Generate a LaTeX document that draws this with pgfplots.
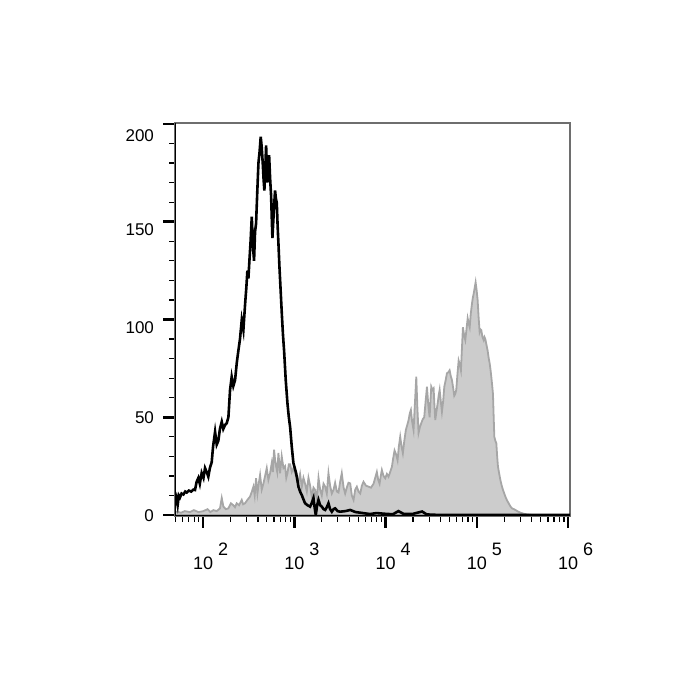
\documentclass[border=0pt]{standalone}
\usepackage{pgfplots}
\pgfplotsset{compat=1.18}
\usepackage{fontspec}
\setmainfont{Liberation Sans}
\definecolor{histfill}{HTML}{CCCCCC}
\definecolor{histline}{HTML}{A6A6A6}
\definecolor{framegray}{HTML}{6E6E6E}
% "10" centred on the tick, exponent at full size, raised, hanging to the right
\newcommand{\dec}[1]{10\rlap{\hspace{2.5pt}\raisebox{7pt}{#1}}}
% y labels sit a little below their ticks
\newcommand{\ylab}[2]{\raisebox{\dimexpr -3pt-#1\relax}[0pt][0pt]{#2}}

\pgfplotstableread{
x y
1.693 1.5
1.711 1.7
1.760 1.2
1.800 2
1.857 1.5
1.900 2.5
1.950 1.5
2.004 2
2.050 3
2.080 1.5
2.113 2.5
2.150 2
2.186 3.4
2.205 8.7
2.223 4.3
2.250 3
2.278 3.4
2.305 6
2.332 5
2.350 4
2.369 6
2.395 5
2.424 7.7
2.440 5.5
2.460 6
2.490 8
2.515 9.4
2.535 12
2.552 14.5
2.566 10
2.581 18.8
2.596 11
2.610 16
2.625 20.5
2.643 13
2.661 16
2.680 20
2.698 24
2.716 18
2.735 21.5
2.753 26.6
2.765 22
2.778 33.4
2.790 28
2.800 25
2.813 22
2.826 31.7
2.844 21.4
2.862 30
2.881 24
2.899 25
2.912 19
2.925 21.4
2.940 26
2.954 26
2.972 22
2.990 24
3.018 20
3.045 17
3.063 21
3.082 14.5
3.100 19
3.118 16
3.137 12
3.155 19
3.173 15
3.191 9.4
3.210 14
3.228 12.8
3.247 8
3.265 19
3.283 13
3.301 10
3.320 16
3.338 14.5
3.356 11
3.374 21.4
3.392 15
3.411 11
3.430 13
3.447 16.5
3.466 12
3.484 11.5
3.502 17
3.520 21.4
3.540 14
3.557 11
3.575 14
3.593 16.5
3.612 16.2
3.630 10
3.649 7.7
3.667 13
3.685 14.5
3.703 12
3.722 11
3.740 15
3.758 17
3.785 15
3.813 14.5
3.840 14
3.868 16
3.886 19
3.904 22
3.919 18
3.934 16
3.947 20
3.959 23
3.977 20
3.996 18.8
4.014 21
4.032 19.6
4.050 22
4.069 24.7
4.083 29
4.098 33
4.115 31
4.131 28
4.145 35
4.160 40
4.175 35
4.189 31.6
4.205 38
4.222 43.5
4.237 46
4.252 48.6
4.265 52
4.277 53.7
4.290 48
4.306 43.5
4.320 56
4.336 70.7
4.348 55
4.361 42
4.376 45
4.391 47
4.407 49
4.423 50
4.438 58
4.453 65.6
4.468 56
4.482 50
4.491 58
4.500 65.6
4.513 64
4.526 64.8
4.535 56
4.544 48.6
4.557 53
4.570 57
4.581 61
4.592 64
4.605 58
4.617 52.8
4.630 58
4.643 65.6
4.658 69
4.672 72.5
4.687 73
4.701 74
4.714 71
4.727 69
4.740 65
4.752 61
4.763 62
4.774 64
4.787 72
4.800 79
4.812 77
4.825 74
4.836 85
4.847 96
4.860 92
4.873 89.5
4.886 95
4.899 100.6
4.910 98
4.921 96
4.933 103
4.946 108
4.955 111
4.964 113
4.975 116
4.986 119
4.997 115
5.008 110
5.019 101
5.030 93.7
5.039 95
5.048 94.6
5.061 91
5.074 89.5
5.083 91
5.092 90
5.105 87
5.118 84
5.130 80
5.140 77.6
5.150 74
5.158 70.7
5.168 66
5.176 62
5.184 50
5.191 40
5.202 38
5.213 36.7
5.222 30
5.231 24.7
5.245 21
5.257 18
5.272 15
5.286 12.8
5.300 11
5.312 9.4
5.330 7.5
5.348 6
5.366 4.5
5.385 3.4
5.405 3
5.421 2.6
5.450 1.8
5.476 1.2
5.510 0.7
5.549 0.3
5.600 0
6.030 0
}\stained

\pgfplotstableread{
x y
1.700 5
1.711 8
1.722 5
1.735 10
1.748 9
1.765 11
1.785 10.5
1.805 12
1.821 11.5
1.845 12.5
1.870 12
1.895 13
1.912 12.8
1.930 17
1.949 19
1.965 16
1.985 21.5
2.005 19
2.022 24
2.040 22
2.058 19.6
2.075 24
2.095 27
2.110 35
2.132 42.6
2.150 36
2.168 38
2.185 44
2.205 47.7
2.222 44
2.241 46
2.260 47
2.278 50
2.296 64
2.314 70.7
2.332 66
2.351 69
2.370 78
2.387 84
2.405 90
2.424 99.7
2.442 94.6
2.461 108
2.474 116
2.486 125
2.497 121
2.508 130
2.521 140
2.534 152.6
2.546 138
2.559 130
2.570 145
2.581 149
2.594 165
2.607 180
2.620 186
2.632 193.5
2.643 188
2.654 180
2.663 172
2.672 166
2.681 176
2.691 189
2.698 180
2.705 170
2.715 178
2.724 184
2.735 172
2.746 163
2.753 152
2.760 141.6
2.775 155
2.789 166
2.798 162
2.808 159.6
2.817 148
2.826 139
2.837 127
2.850 115
2.863 103
2.876 92
2.888 84
2.906 69
2.925 57
2.940 50
2.954 45
2.972 35
2.990 26.6
3.005 24
3.020 21.4
3.033 18
3.045 14.5
3.063 12
3.082 10.2
3.100 8
3.118 6
3.145 5
3.173 4.3
3.190 6
3.210 8.7
3.222 4
3.235 0
3.250 5
3.265 7.7
3.283 5
3.301 4.3
3.320 3
3.338 2.6
3.356 4
3.374 6
3.392 3
3.411 1.7
3.430 3
3.447 3.4
3.475 2
3.502 1.7
3.560 2
3.612 2.6
3.670 1.5
3.721 1.2
3.780 0.8
3.831 0.5
3.900 1
4.000 0.6
4.080 0.4
4.140 2
4.200 0.5
4.300 0.6
4.400 1.8
4.450 0.3
4.600 0
6.030 0
}\isotype

\begin{document}
\begin{tikzpicture}
\begin{axis}[
    at={(87.5pt,92pt)}, anchor=south west,
    scale only axis,
    width=197.5pt, height=196.5pt,
    xmin=1.693, xmax=6.02,
    ymin=-0.5, ymax=200.5,
    axis line style={draw=framegray, line width=0.7pt},
    tick align=outside,
    xtick pos=bottom, ytick pos=left,
    xtick={2,3,4,5,6},
    xticklabels={\dec{2},\dec{3},\dec{4},\dec{5},\dec{6}},
    minor xtick={1.699,1.778,1.845,1.903,1.954,
      2.301,2.477,2.602,2.699,2.778,2.845,2.903,2.954,
      3.301,3.477,3.602,3.699,3.778,3.845,3.903,3.954,
      4.301,4.477,4.602,4.699,4.778,4.845,4.903,4.954,
      5.301,5.477,5.602,5.699,5.778,5.845,5.903,5.954},
    ytick={0,50,100,150,200},
    yticklabels={\ylab{0pt}{0},\ylab{0pt}{50},\ylab{3.8pt}{100},\ylab{4pt}{150},\ylab{6pt}{200}},
    minor y tick num=4,
    major tick length=6pt, minor tick length=3pt,
    major tick style={black, line width=1.3pt},
    minor tick style={black, line width=0.6pt},
    xticklabel style={font=\fontsize{9}{10}\selectfont, yshift=-4pt},
    yticklabel style={font=\fontsize{8.5}{10}\selectfont, xshift=-1pt},
  ]
  \addplot[draw=histline, fill=histfill, line width=0.9pt] table {\stained} \closedcycle;
  \addplot[black, line width=1.3pt] table {\isotype};
  \draw[black, line width=1pt] (rel axis cs:0,1) -- (rel axis cs:0,0) -- (rel axis cs:1,0);
\end{axis}
\pgfresetboundingbox
\path[use as bounding box] (0,0) rectangle (350pt,350pt);
\end{tikzpicture}
\end{document}
